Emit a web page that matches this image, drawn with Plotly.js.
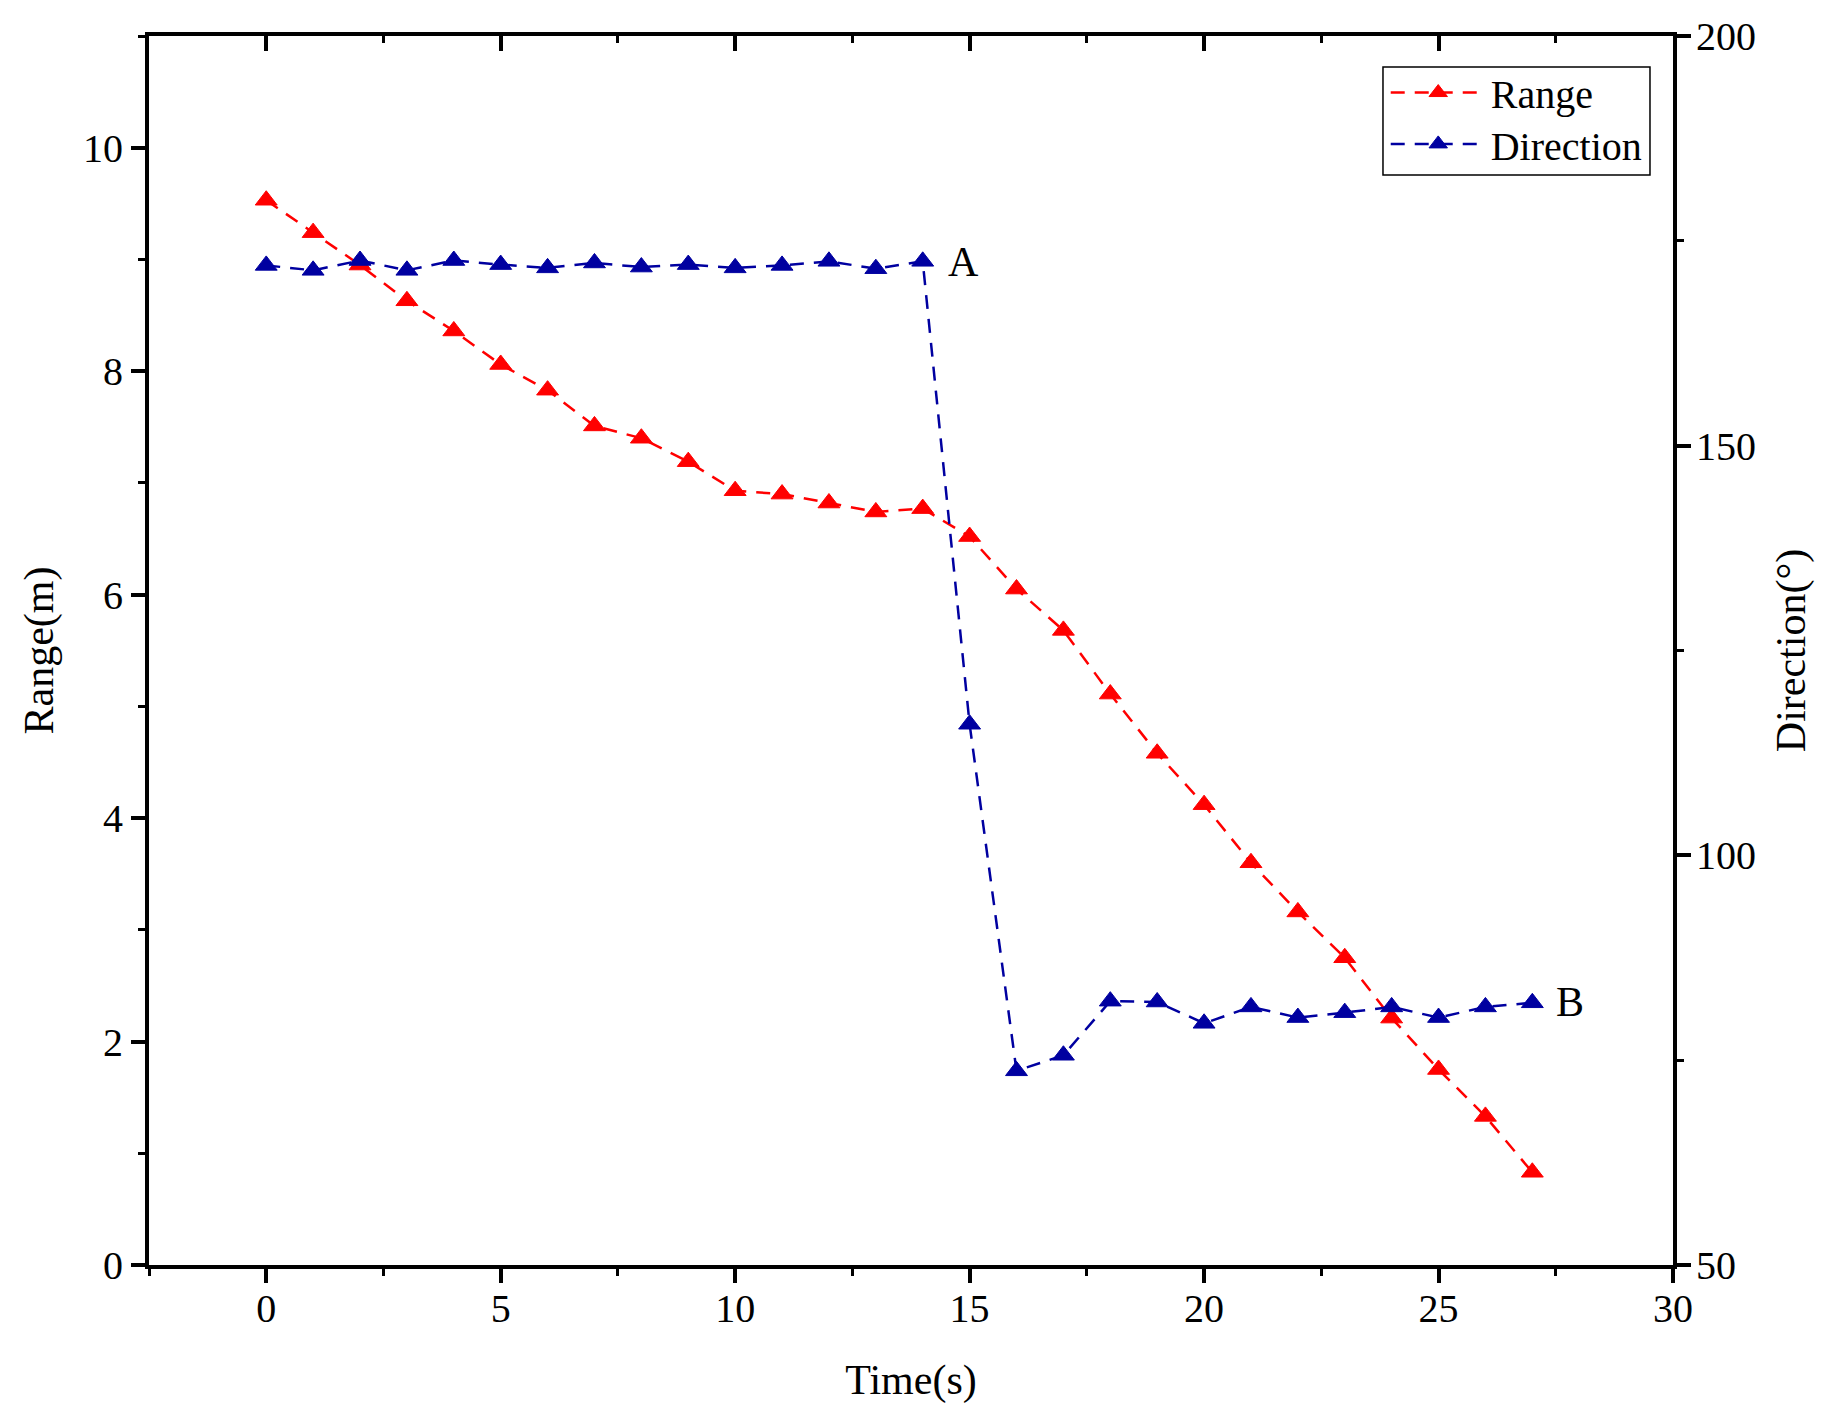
<!DOCTYPE html>
<html>
<head>
<meta charset="utf-8">
<script src="https://cdn.plot.ly/plotly-3.0.1.min.js"></script>
<style>
  html, body { margin: 0; padding: 0; background: #ffffff; }
  #chart { width: 1830px; height: 1416px; }
</style>
</head>
<body>
<div id="chart"></div>
<script>
// ---- data ----
var time = [0, 1, 2, 3, 4, 5, 6, 7, 8, 9, 10, 11, 12, 13, 14, 15, 16, 17, 18, 19, 20, 21, 22, 23, 24, 25, 26, 27];
var rangeM = [9.53, 9.24, 8.95, 8.63, 8.36, 8.06, 7.83, 7.51, 7.40, 7.19, 6.93, 6.90, 6.82, 6.74, 6.77,
              6.52, 6.05, 5.68, 5.11, 4.58, 4.12, 3.60, 3.16, 2.75, 2.21, 1.75, 1.33, 0.83];
var direction = [172.0, 171.4, 172.6, 171.4, 172.6, 172.1, 171.7, 172.3, 171.8, 172.1, 171.7, 172.0, 172.5, 171.6, 172.5,
                 116.0, 73.7, 75.6, 82.2, 82.1, 79.5, 81.5, 80.2, 80.8, 81.5, 80.2, 81.5, 82.0];
var seriesNames = ['Range', 'Direction'];
var xTitle = 'Time(s)';
var yTitle = 'Range(m)';
var y2Title = 'Direction(°)';
var labelA = {text: 'A', x: 14.86, y: 172.4};
var labelB = {text: 'B', x: 27.80, y: 82.1};

var FONT = 'Liberation Serif, Times New Roman, serif';
var RED = '#FF0000';
var BLUE = '#0000A0';

var traces = [
  {
    x: time, y: rangeM, name: seriesNames[0], type: 'scatter', mode: 'lines+markers',
    xaxis: 'x', yaxis: 'y', legend: 'legend',
    line: {color: RED, width: 2.5, dash: '14px,10px'},
    marker: {symbol: 'triangle-up', size: 19, color: RED, line: {color: RED, width: 1}}
  },
  {
    x: time, y: direction, name: seriesNames[1], type: 'scatter', mode: 'lines+markers',
    xaxis: 'x', yaxis: 'y2', legend: 'legend2',
    line: {color: BLUE, width: 2.5, dash: '14px,10px'},
    marker: {symbol: 'triangle-up', size: 19, color: BLUE, line: {color: BLUE, width: 1}}
  },
  {
    x: [null], y: [null], xaxis: 'x2', yaxis: 'y', type: 'scatter', mode: 'markers',
    showlegend: false, hoverinfo: 'skip'
  }
];

var axisCommon = {
  showline: true, linewidth: 4, linecolor: '#000000',
  showgrid: false, zeroline: false,
  ticks: 'outside', ticklen: 14, tickwidth: 4, tickcolor: '#000000',
  tickfont: {family: FONT, size: 40, color: '#000000'}
};

function legendAt(yCenter) {
  return {
    x: 0.8115, y: yCenter, xanchor: 'left', yanchor: 'middle',
    borderwidth: 0, bgcolor: 'rgba(0,0,0,0)',
    font: {family: FONT, size: 40, color: '#000000'},
    itemwidth: 95
  };
}

var layout = {
  width: 1830, height: 1416,
  margin: {l: 149, r: 157, t: 36, b: 151, pad: 0},
  paper_bgcolor: '#ffffff', plot_bgcolor: '#ffffff',
  font: {family: FONT, size: 40, color: '#000000'},
  showlegend: true,
  legend: legendAt(0.9540),
  legend2: legendAt(0.9122),
  shapes: [
    {type: 'rect', xref: 'paper', yref: 'paper', x0: 0.8097, x1: 0.9849, y0: 0.8869, y1: 0.9748,
     line: {color: '#000000', width: 1.5}, fillcolor: 'rgba(0,0,0,0)', layer: 'above'}
  ],
  xaxis: Object.assign({}, axisCommon, {
    range: [-2.5, 30], dtick: 5, tick0: 0,
    minor: {dtick: 2.5, tick0: 0, ticks: 'outside', ticklen: 7, tickwidth: 3, tickcolor: '#000000'},
    title: {text: xTitle, font: {family: FONT, size: 42, color: '#000000'}, standoff: 36},
    ticklabelstandoff: -9
  }),
  xaxis2: Object.assign({}, axisCommon, {
    range: [-2.5, 30], dtick: 5, tick0: 0, overlaying: 'x', side: 'top', anchor: 'y',
    ticks: 'inside', ticklen: 15, showticklabels: false,
    minor: {dtick: 2.5, tick0: 0, ticks: 'inside', ticklen: 7, tickwidth: 3, tickcolor: '#000000'}
  }),
  yaxis: Object.assign({}, axisCommon, {
    range: [0, 11], dtick: 2, tick0: 0,
    minor: {dtick: 1, tick0: 0, ticks: 'outside', ticklen: 7, tickwidth: 3, tickcolor: '#000000'},
    title: {text: yTitle, font: {family: FONT, size: 42, color: '#000000'}, standoff: 17},
    ticklabelstandoff: 0
  }),
  yaxis2: Object.assign({}, axisCommon, {
    range: [50, 200], dtick: 50, tick0: 0, overlaying: 'y', side: 'right', anchor: 'x',
    minor: {dtick: 25, tick0: 0, ticks: 'outside', ticklen: 7, tickwidth: 3, tickcolor: '#000000'},
    title: {text: y2Title, font: {family: FONT, size: 42, color: '#000000'}, standoff: 22},
    ticklabelstandoff: -3
  }),
  annotations: [
    {text: labelA.text, x: labelA.x, y: labelA.y, xref: 'x', yref: 'y2', showarrow: false,
     xanchor: 'center', yanchor: 'middle', font: {family: FONT, size: 42, color: '#000000'}},
    {text: labelB.text, x: labelB.x, y: labelB.y, xref: 'x', yref: 'y2', showarrow: false,
     xanchor: 'center', yanchor: 'middle', font: {family: FONT, size: 42, color: '#000000'}}
  ]
};

Plotly.newPlot('chart', traces, layout, {displayModeBar: false, staticPlot: true});
</script>
</body>
</html>
